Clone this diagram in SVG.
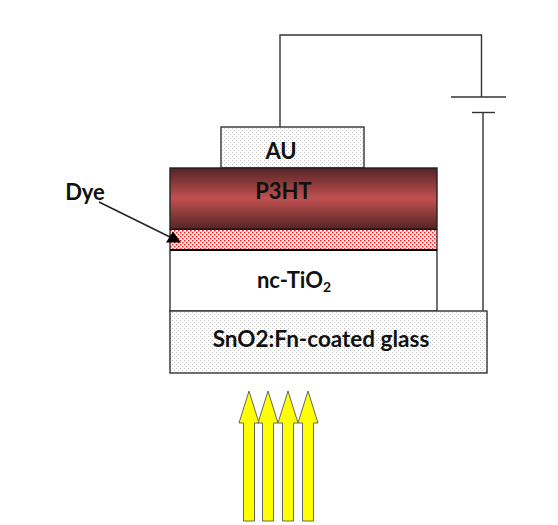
<svg xmlns="http://www.w3.org/2000/svg" width="558" height="525" viewBox="0 0 558 525">
<defs>
<pattern id="dots" width="4" height="4" patternUnits="userSpaceOnUse"><rect width="4" height="4" fill="#fff"/><rect x="0" y="0" width="1" height="1" fill="#c4c4c4"/><rect x="2" y="2" width="1" height="1" fill="#c4c4c4"/></pattern>
<pattern id="reddots" width="4" height="4" patternUnits="userSpaceOnUse"><rect width="4" height="4" fill="#fde4e4"/><rect x="0" y="0" width="1.500" height="1.500" fill="#ee2a2a"/><rect x="2" y="2" width="1.500" height="1.500" fill="#ee2a2a"/></pattern>
<linearGradient id="p3ht" x1="0" y1="0" x2="0" y2="1"><stop offset="0" stop-color="#562424"/><stop offset="0.5" stop-color="#c05050"/><stop offset="1" stop-color="#562424"/></linearGradient>
<path id="ya" d="M0,0L-10,32H-5.500V130H5.500V32H10Z" fill="#ff0" stroke="#666" stroke-width="1"/>
</defs>
<style>
.t{font-family:Lato,"Liberation Sans",sans-serif;font-weight:700;font-size:22px;fill:#111;text-anchor:middle}
.w{fill:none;stroke:#333;stroke-width:1.400}
.b{stroke:#333;stroke-width:1.400}
</style>
<rect width="558" height="525" fill="#fff"/>
<g id="au"><rect x="221" y="127" width="143" height="41" fill="url(#dots)" class="b"/><text class="t" x="281" y="159">AU</text></g>
<g id="tio2"><rect x="170" y="250" width="267" height="61" fill="#fff" class="b"/><text class="t" x="294" y="288">nc-TiO<tspan font-size="14" dy="4">2</tspan></text></g>
<g id="dye-layer"><rect x="170" y="229" width="267" height="21" fill="url(#reddots)"/><path d="M170,229H437M170,250H437" stroke="#000" stroke-width="2.200" fill="none"/><path d="M170,229V250M437,229V250" stroke="#333" stroke-width="1.400" fill="none"/></g>
<g id="p3ht-layer"><rect x="170" y="168" width="267" height="61" fill="url(#p3ht)" stroke="#222" stroke-width="1.400"/><text class="t" x="283.500" y="199">P3HT</text></g>
<g id="glass"><rect x="170" y="311" width="317" height="62" fill="url(#dots)" class="b"/><text class="t" x="321" y="347" style="font-size:22.500px">SnO2:Fn-coated glass</text></g>
<g id="dye"><text class="t" x="85" y="200">Dye</text></g>
<g id="light"><use href="#ya" x="249" y="391"/><use href="#ya" x="268" y="391"/><use href="#ya" x="288" y="391"/><use href="#ya" x="308" y="391"/></g>
<g id="connectors">
<path class="w" d="M280,127V35H481.500V97"/>
<path class="w" d="M451,97H506"/>
<path class="w" d="M472,112.500H495"/>
<path class="w" d="M483,112.500V311"/>
<path d="M99,202L172,238" stroke="#222" stroke-width="1.500" fill="none"/>
<path d="M173,231.500L166,242.500H181Z" fill="#000"/>
</g>
</svg>
